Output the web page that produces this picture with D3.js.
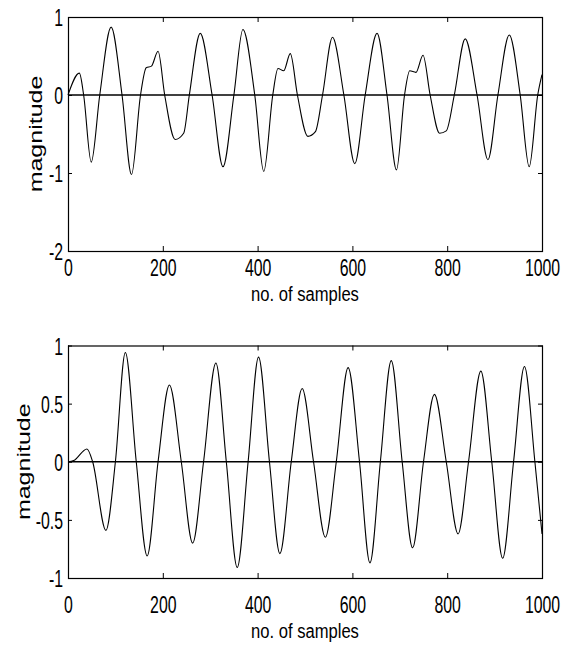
<!DOCTYPE html>
<html lang="en">
<head>
    <meta charset="UTF-8">
    <title>magnitude vs no. of samples</title>
    <script src="https://d3js.org/d3.v7.min.js"></script>
    <style>
        body { margin: 0; background: #fff; }
        svg { display: block; }
        text { font-family: "Liberation Sans", Arial, sans-serif; fill: #000; }
        .tick line { stroke: #000; }
        .wave { fill: none; stroke: #000; stroke-width: 1.1px; }
        .zero { stroke: #000; stroke-width: 1.5px; }
    </style>
</head>
<body>
    <svg></svg>
    <script>
        const width = 573, height = 648;

        // values: peaks, troughs, shoulders and zero crossings
        const samplesTop = [0, 24, 33, 49, 67, 91, 114, 134, 153, 165, 176, 190, 204, 226, 244, 256,
            279, 304, 327, 350, 369, 394, 413, 432, 443, 455, 469, 484, 506, 522, 537,
            558, 582, 605, 627, 652, 673, 693, 710, 721, 734, 749, 764, 784, 798, 815,
            838, 863, 886, 907, 931, 954, 973, 991, 1000];
        const valuesTop = [0, 0.28, 0, -0.86, 0, 0.87, 0, -1.02, 0, 0.35, 0.37, 0.56, 0, -0.57, -0.49, 0,
            0.79, 0, -0.92, 0, 0.84, 0, -0.98, 0, 0.34, 0.31, 0.53, 0, -0.53, -0.47, 0,
            0.74, 0, -0.88, 0, 0.79, 0, -0.96, 0, 0.31, 0.29, 0.51, 0, -0.49, -0.46, 0,
            0.72, 0, -0.83, 0, 0.77, 0, -0.92, 0, 0.26];

        const samplesBottom = [0, 12, 40, 52, 80, 100, 121, 144, 167, 190, 214, 239, 263, 286, 312, 334,
            357, 380, 402, 425, 447, 471, 494, 518, 543, 566, 591, 615, 637, 659, 682,
            705, 727, 750, 773, 798, 823, 845, 871, 894, 917, 940, 963, 985, 1000];
        const valuesBottom = [0, 0.01, 0.11, 0, -0.59, 0, 0.94, 0, -0.81, 0, 0.66, 0, -0.70, 0, 0.85, 0,
            -0.91, 0, 0.90, 0, -0.79, 0, 0.63, 0, -0.65, 0, 0.81, 0, -0.87, 0, 0.87,
            0, -0.74, 0, 0.58, 0, -0.62, 0, 0.78, 0, -0.83, 0, 0.82, 0, -0.62];

        const xTicks = [0, 200, 400, 600, 800, 1000];
        const yTicksTop = [-2, -1, 0, 1];
        const yTicksBottom = [-1, -0.5, 0, 0.5, 1];

        const xLabel = "no. of samples";
        const yLabel = "magnitude";

        const squeeze = 0.66;
        const left = 68, right = 542;

        const svg = d3.select("svg").attr("width", width).attr("height", height);
        svg.append("rect").attr("width", width).attr("height", height).attr("fill", "#fff");

        function panel(opt) {
            const { top, bottom, yDomain, yTicks, samples, values, tickBase, xLabelY, yLabelX } = opt;
            const x = d3.scaleLinear().domain([0, 1000]).range([left, right]);
            const y = d3.scaleLinear().domain(yDomain).range([bottom, top]);
            const g = svg.append("g");

            // line + zero line
            const pts = samples.map((s, i) => [s, values[i]]);
            g.append("line").attr("class", "zero")
                .attr("x1", x(0)).attr("x2", x(1000))
                .attr("y1", y(0)).attr("y2", y(0));
            g.append("path").attr("class", "wave")
                .attr("d", d3.line().x(d => x(d[0])).y(d => y(d[1])).curve(d3.curveMonotoneX)(pts));

            // inward ticks on all four sides
            const ax = g.append("g").attr("transform", `translate(0,${bottom})`)
                .call(d3.axisBottom(x).tickValues(xTicks).tickSize(-5).tickSizeOuter(0)
                    .tickFormat(d => String(d)));
            ax.selectAll("text")
                .attr("y", tickBase - bottom).attr("dy", 0)
                .style("font-size", "24px")
                .attr("transform", `scale(${squeeze},1)`);
            g.append("g").attr("transform", `translate(0,${top})`)
                .call(d3.axisTop(x).tickValues(xTicks).tickSize(-5).tickSizeOuter(0).tickFormat(""));

            const ay = g.append("g").attr("transform", `translate(${left},0)`)
                .call(d3.axisLeft(y).tickValues(yTicks).tickSize(-4).tickSizeOuter(0).tickFormat(d => String(d)));
            ay.selectAll("text")
                .attr("x", -5 / squeeze).attr("dy", "0.36em")
                .style("font-size", "24px")
                .attr("transform", `scale(${squeeze},1)`);
            g.append("g").attr("transform", `translate(${right},0)`)
                .call(d3.axisRight(y).tickValues(yTicks).tickSize(-4).tickSizeOuter(0).tickFormat(""));

            g.selectAll(".domain").remove();
            g.append("rect")
                .attr("x", left + 0.5).attr("y", top + 0.5)
                .attr("width", right - left).attr("height", bottom - top)
                .attr("fill", "none").attr("stroke", "#000").attr("stroke-width", 1.2);

            g.append("text")
                .attr("transform", `translate(${(left + right) / 2},${xLabelY}) scale(0.79,1)`)
                .attr("text-anchor", "middle")
                .style("font-size", "21px")
                .text(xLabel);

            g.append("text")
                .attr("transform", `translate(${yLabelX},${(top + bottom) / 2}) scale(0.76,1) rotate(-90)`)
                .attr("text-anchor", "middle")
                .style("font-size", "25px")
                .text(yLabel);
        }

        panel({ top: 17, bottom: 251, yDomain: [-2, 1], yTicks: yTicksTop,
            samples: samplesTop, values: valuesTop, tickBase: 276, xLabelY: 301, yLabelX: 42 });
        panel({ top: 345.5, bottom: 578, yDomain: [-1, 1], yTicks: yTicksBottom,
            samples: samplesBottom, values: valuesBottom, tickBase: 613, xLabelY: 638, yLabelX: 30 });
    </script>
</body>
</html>
